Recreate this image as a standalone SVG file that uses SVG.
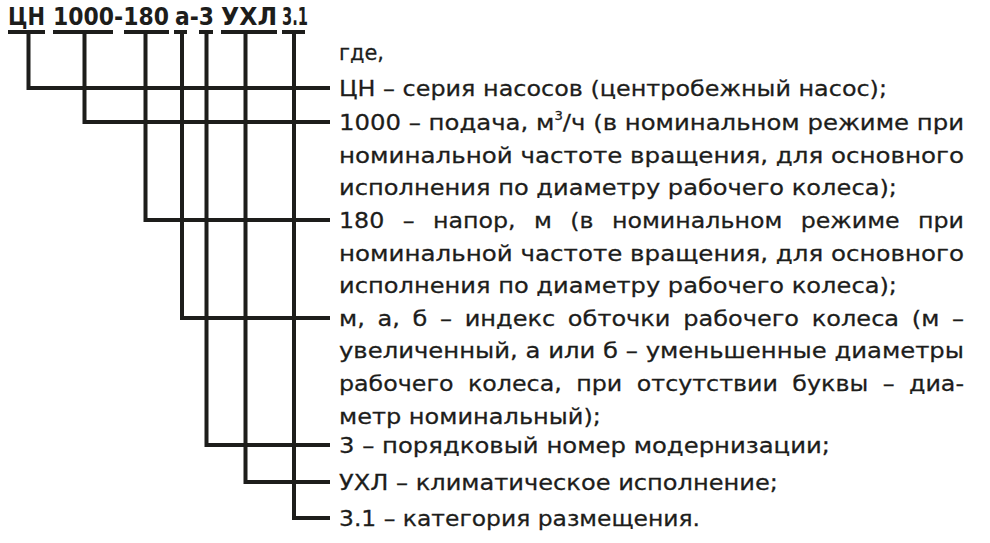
<svg xmlns="http://www.w3.org/2000/svg" width="990" height="543" viewBox="0 0 990 543">
<style>
.hd{font-family:"DejaVu Sans","Liberation Sans",sans-serif;font-weight:bold;font-size:22px;fill:#1d1d1b}
.t{font-family:"DejaVu Sans","Liberation Sans",sans-serif;font-size:24px;fill:#1d1d1b;stroke:#1d1d1b;stroke-width:0.3}
.ln{fill:none;stroke:#1d1d1b;stroke-width:4;stroke-linejoin:miter;stroke-linecap:butt}
</style>
<rect width="990" height="543" fill="#ffffff"/>
<g id="header" transform="translate(0,24.5) scale(1,1.13)">
<text class="hd" x="8" y="0" textLength="37" lengthAdjust="spacingAndGlyphs">ЦН</text>
<text class="hd" x="53" y="0" textLength="116" lengthAdjust="spacingAndGlyphs">1000-180</text>
<text class="hd" x="175" y="0" textLength="39" lengthAdjust="spacingAndGlyphs">а-3</text>
<text class="hd" x="221" y="0" textLength="56" lengthAdjust="spacingAndGlyphs">УХЛ</text>
<text class="hd" x="282" y="0" textLength="26" lengthAdjust="spacingAndGlyphs">3.1</text>
</g>
<g id="connectors">
<path class="ln" d="M8 32H45M53 32H113M124 32H169M174 32H187M199 32H213M221 32H277M282 32H305"/>
<path class="ln" d="M28.5 32V88H330"/>
<path class="ln" d="M84.5 32V122H330"/>
<path class="ln" d="M145.5 32V220H330"/>
<path class="ln" d="M182 32V318H330"/>
<path class="ln" d="M206.5 32V445H330"/>
<path class="ln" d="M245.5 32V482H330"/>
<path class="ln" d="M294 32V518H330"/>
</g>
<g id="legend" transform="scale(1,0.9167)">
<g id="intro"><text class="t" x="339" y="65.45" textLength="45" lengthAdjust="spacingAndGlyphs">где,</text></g>
<g id="item-cn"><text class="t" x="339" y="104.73" textLength="548" lengthAdjust="spacingAndGlyphs">ЦН – серия насосов (центробежный насос);</text></g>
<g id="item-1000">
<text class="t" x="339" y="141.82" textLength="625" lengthAdjust="spacingAndGlyphs">1000 – подача, м<tspan font-size="13" dy="-11">3</tspan><tspan dy="11">/ч (в номинальном режиме при</tspan></text>
<text class="t" x="339" y="177.27" textLength="625" lengthAdjust="spacingAndGlyphs">номинальной частоте вращения, для основного</text>
<text class="t" x="339" y="212.73" textLength="558" lengthAdjust="spacingAndGlyphs">исполнения по диаметру рабочего колеса);</text>
</g>
<g id="item-180">
<text class="t" x="339" y="248.73" textLength="625" lengthAdjust="spacingAndGlyphs" style="word-spacing:11px">180 – напор, м (в номинальном режиме при</text>
<text class="t" x="339" y="284.18" textLength="625" lengthAdjust="spacingAndGlyphs">номинальной частоте вращения, для основного</text>
<text class="t" x="339" y="319.64" textLength="558" lengthAdjust="spacingAndGlyphs">исполнения по диаметру рабочего колеса);</text>
</g>
<g id="item-index">
<text class="t" x="339" y="355.64" textLength="625" lengthAdjust="spacingAndGlyphs" style="word-spacing:5px">м, а, б – индекс обточки рабочего колеса (м –</text>
<text class="t" x="339" y="391.09" textLength="625" lengthAdjust="spacingAndGlyphs">увеличенный, а или б – уменьшенные диаметры</text>
<text class="t" x="339" y="426.55" textLength="625" lengthAdjust="spacingAndGlyphs" style="word-spacing:7px">рабочего колеса, при отсутствии буквы – диа-</text>
<text class="t" x="339" y="462" textLength="262" lengthAdjust="spacingAndGlyphs">метр номинальный);</text>
</g>
<g id="item-3"><text class="t" x="339" y="494.18" textLength="491" lengthAdjust="spacingAndGlyphs">3 – порядковый номер модернизации;</text></g>
<g id="item-uhl"><text class="t" x="339" y="534.55" textLength="439" lengthAdjust="spacingAndGlyphs">УХЛ – климатическое исполнение;</text></g>
<g id="item-31"><text class="t" x="339" y="573.82" textLength="361" lengthAdjust="spacingAndGlyphs">3.1 – категория размещения.</text></g>
</g>
</svg>
